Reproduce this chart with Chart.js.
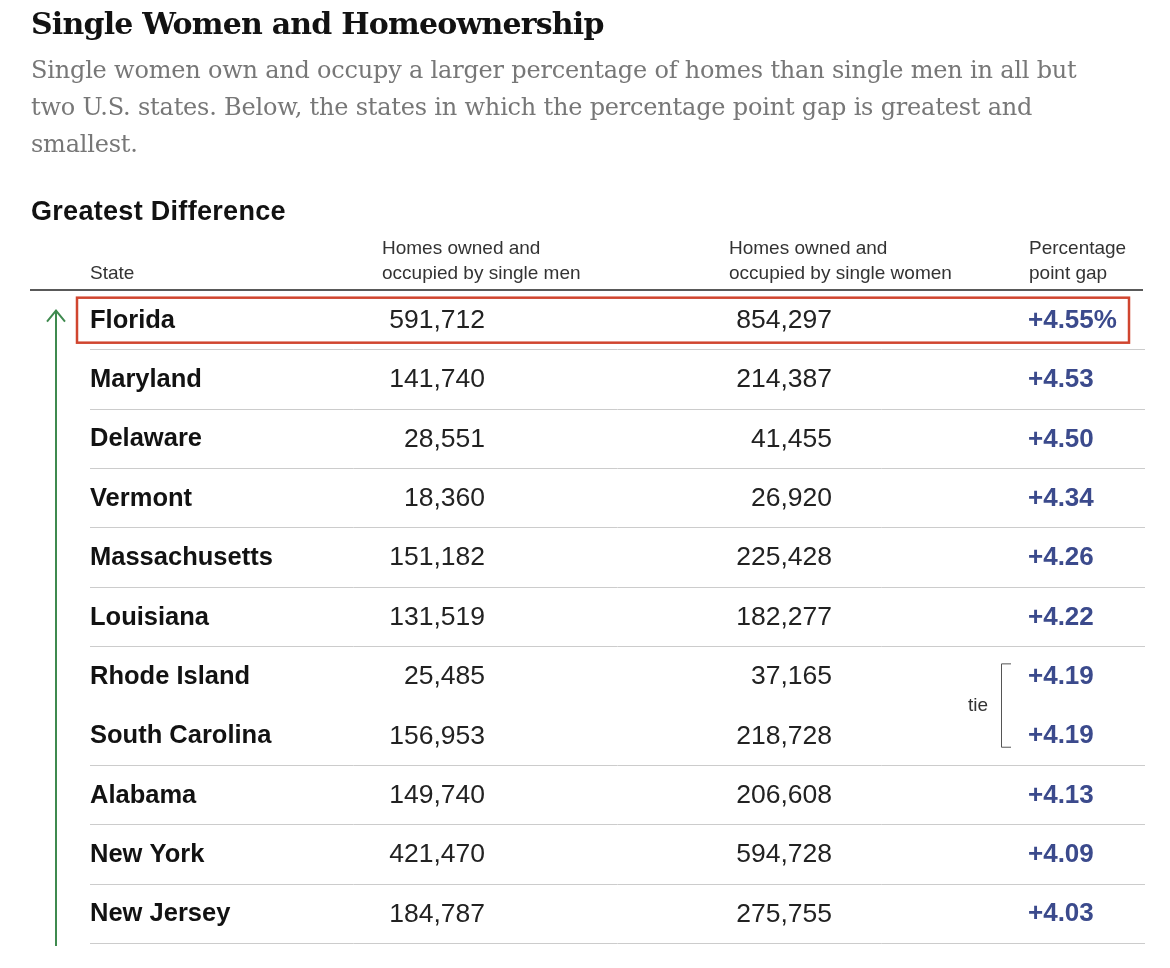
<!DOCTYPE html>
<html>
<head>
<meta charset="utf-8">
<script src="https://cdn.jsdelivr.net/npm/chart.js@4"></script>
<style>
  body { margin: 0; background: #fff; width: 1170px; height: 968px; position: relative; overflow: hidden; }
  #wrap { position: absolute; left: 0; top: 0; width: 1170px; height: 968px; }
  .t { position: absolute; left: 31px; margin: 0; }
  #title { top: 6px; font: bold 30px "DejaVu Serif", Georgia, serif; color: #121212; letter-spacing: -0.8px; }
  #sub { top: 52px; width: 1080px; font: 24px/37px "DejaVu Serif", Georgia, serif; color: #777; letter-spacing: -0.2px; }
  #sect { top: 196px; font: bold 27px "Liberation Sans", Arial, sans-serif; color: #121212; letter-spacing: 0.3px; }
  .h { position: absolute; font: 19px/25px "Liberation Sans", Arial, sans-serif; color: #333; }
</style>
</head>
<body>
<div id="wrap"><canvas id="table"></canvas></div>
<p class="t" id="title">Single Women and Homeownership</p>
<p class="t" id="sub">Single women own and occupy a larger percentage of homes than single men in all but two U.S. states. Below, the states in which the percentage point gap is greatest and smallest.</p>
<p class="t" id="sect">Greatest Difference</p>
<div class="h" style="left:90px;top:260px">State</div>
<div class="h" style="left:382px;top:235px">Homes owned and<br>occupied by single men</div>
<div class="h" style="left:729px;top:235px">Homes owned and<br>occupied by single women</div>
<div class="h" style="left:1029px;top:235px">Percentage<br>point gap</div>
<script>
// table data
const states = ['Florida', 'Maryland', 'Delaware', 'Vermont', 'Massachusetts', 'Louisiana',
    'Rhode Island', 'South Carolina', 'Alabama', 'New York', 'New Jersey'];
const menHomes = [591712, 141740, 28551, 18360, 151182, 131519, 25485, 156953, 149740, 421470, 184787];
const womenHomes = [854297, 214387, 41455, 26920, 225428, 182277, 37165, 218728, 206608, 594728, 275755];
const gapLabels = ['+4.55%', '+4.53', '+4.50', '+4.34', '+4.26', '+4.22', '+4.19', '+4.19', '+4.13', '+4.09', '+4.03'];
const tieRows = [6, 7];

const fmt = n => n.toLocaleString('en-US');

const tablePlugin = {
    id: 'tableCells',
    afterDraw(chart) {
        const ctx = chart.ctx;
        const y = chart.scales.y;
        const band = y.getPixelForValue(1) - y.getPixelForValue(0);
        const top = y.getPixelForValue(0) - band / 2;
        ctx.save();

        // header rule
        ctx.strokeStyle = '#222';
        ctx.lineWidth = 1.5;
        ctx.beginPath(); ctx.moveTo(30, top); ctx.lineTo(1143, top); ctx.stroke();

        // row separators
        ctx.strokeStyle = '#ccc';
        ctx.lineWidth = 1;
        states.forEach((s, i) => {
            if (i === tieRows[0]) return;
            const yy = Math.round(top + (i + 1) * band) + 0.5;
            ctx.beginPath(); ctx.moveTo(90, yy); ctx.lineTo(1145, yy); ctx.stroke();
        });

        ctx.textBaseline = 'middle';
        states.forEach((s, i) => {
            const yy = y.getPixelForValue(i) + 1;
            ctx.fillStyle = '#121212';
            ctx.textAlign = 'left';
            ctx.font = 'bold 25.5px "Liberation Sans", Arial, sans-serif';
            ctx.fillText(s, 90, yy);
            ctx.font = '26.5px "Liberation Sans", Arial, sans-serif';
            ctx.fillStyle = '#222';
            ctx.textAlign = 'right';
            ctx.fillText(fmt(menHomes[i]), 485, yy);
            ctx.fillText(fmt(womenHomes[i]), 832, yy);
            ctx.fillStyle = '#3b4a8c';
            ctx.font = 'bold 26px "Liberation Sans", Arial, sans-serif';
            ctx.textAlign = 'left';
            ctx.fillText(gapLabels[i], 1028, yy);
        });

        // tie bracket
        const y1 = y.getPixelForValue(tieRows[0]) - 12;
        const y2 = y.getPixelForValue(tieRows[1]) + 12;
        ctx.strokeStyle = '#555';
        ctx.lineWidth = 1;
        ctx.beginPath();
        ctx.moveTo(1011, y1); ctx.lineTo(1001.5, y1); ctx.lineTo(1001.5, y2); ctx.lineTo(1011, y2);
        ctx.stroke();
        ctx.fillStyle = '#333';
        ctx.font = '19px "Liberation Sans", Arial, sans-serif';
        ctx.textAlign = 'center';
        ctx.fillText('tie', 978, (y1 + y2) / 2);

        // highlight box on first row
        const f = y.getPixelForValue(0);
        ctx.strokeStyle = '#d0452f';
        ctx.lineWidth = 2.5;
        ctx.strokeRect(77, f - 22, 1052, 45);

        // green arrow
        ctx.strokeStyle = '#3f8a4f';
        ctx.lineWidth = 2;
        ctx.beginPath();
        ctx.moveTo(56, top + states.length * band + 3); ctx.lineTo(56, f - 8);
        ctx.moveTo(47, f + 2); ctx.lineTo(56, f - 9); ctx.lineTo(65, f + 2);
        ctx.stroke();
        ctx.restore();
    }
};

new Chart(document.getElementById('table'), {
    type: 'bar',
    data: {
        labels: states,
        datasets: [{ data: states.map(() => 0), backgroundColor: 'transparent' }]
    },
    options: {
        indexAxis: 'y',
        responsive: true,
        maintainAspectRatio: false,
        animation: false,
        events: [],
        layout: { padding: { top: 290, bottom: 25, left: 0, right: 0 } },
        scales: {
            x: { display: false, min: 0, max: 1 },
            y: { display: false }
        },
        plugins: { legend: { display: false }, tooltip: { enabled: false } }
    },
    plugins: [tablePlugin]
});
</script>
</body>
</html>
